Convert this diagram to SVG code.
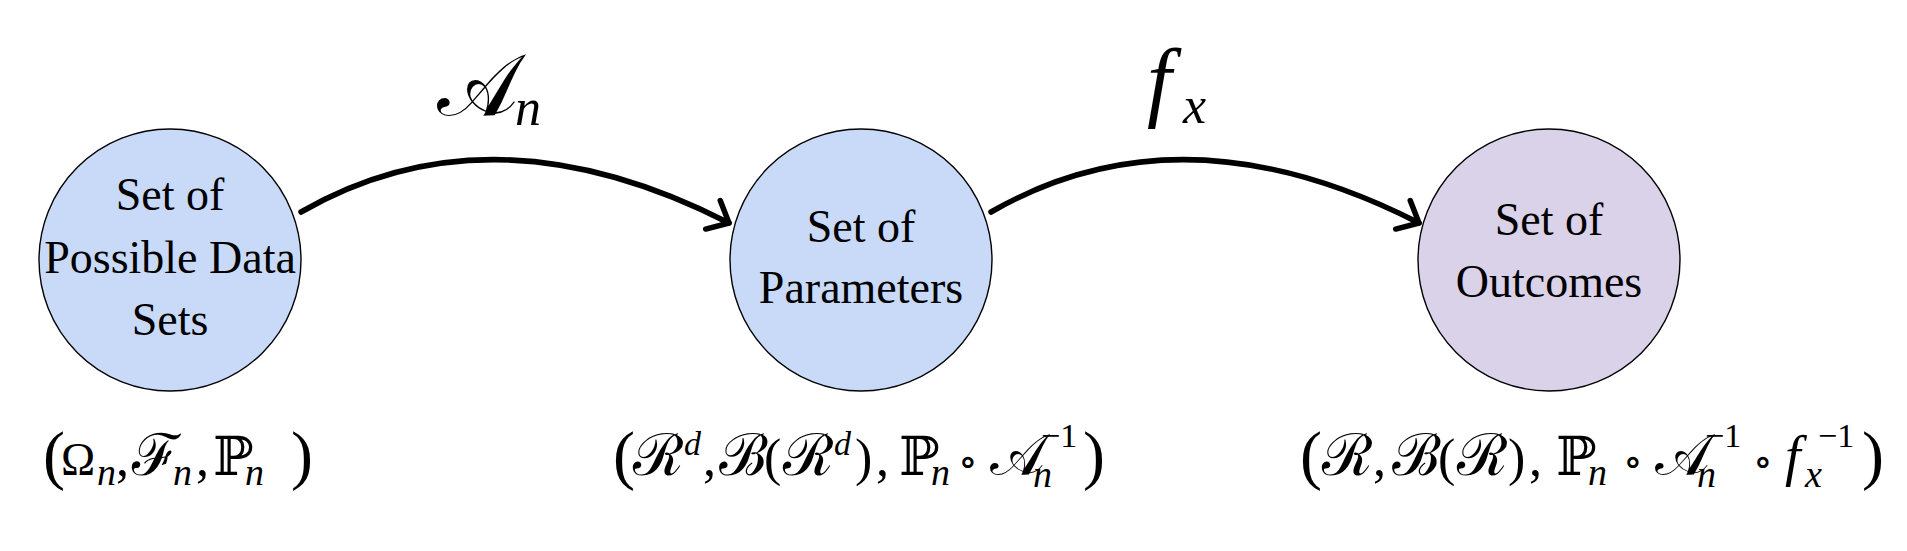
<svg xmlns="http://www.w3.org/2000/svg" width="1907" height="551" viewBox="0 0 1907 551">
<defs>
<style>
.node{stroke:#000;stroke-width:1.4}
.blue{fill:#c9daf8}
.purple{fill:#d9d2e9}
.nt{font-family:"Liberation Serif",serif;font-size:46px;fill:#000;text-anchor:middle}
.edge{fill:none;stroke:#000;stroke-width:5.5;stroke-linecap:round}
.lbl{font-family:"Liberation Serif",serif;fill:#000;font-size:52px}
.m{font-family:"DejaVu Serif",serif;font-size:58px}
.i{font-style:italic}
.sub{font-style:italic;font-size:38px}
.sup{font-size:34px}
.par{font-size:66px}
.op{font-family:"DejaVu Serif",serif;font-size:40px}
</style>
<marker id="arr" markerUnits="userSpaceOnUse" viewBox="-25 -22 30 44" refX="0" refY="0" markerWidth="30" markerHeight="44" orient="auto" overflow="visible">
<path d="M-18,-16 L0,0 L-18,16" fill="none" stroke="#000" stroke-width="5.5" stroke-linecap="round" stroke-linejoin="round"/>
</marker>
</defs>
<rect width="1907" height="551" fill="#fff"/>
<g id="connectors">
<path class="edge" d="M301,212 Q492,102 729,223" marker-end="url(#arr)"/>
<path class="edge" d="M991,212 Q1182,102 1419,223" marker-end="url(#arr)"/>
</g>
<g id="label-An">
<text class="lbl"><tspan class="m" x="437" y="115" style="font-size:86px">𝒜</tspan><tspan class="sub" x="515" y="125" style="font-size:52px">n</tspan></text>
</g>
<g id="label-fx">
<text class="lbl"><tspan class="i" x="1147" y="110" style="font-size:88px">f</tspan><tspan class="sub" x="1183" y="123" style="font-size:52px">x</tspan></text>
</g>
<g id="node-data">
<circle class="node blue" cx="170" cy="260" r="131"/>
<text class="nt" x="170" y="210">Set of</text>
<text class="nt" x="170" y="273">Possible Data</text>
<text class="nt" x="170" y="335">Sets</text>
</g>
<g id="node-params">
<circle class="node blue" cx="861" cy="260" r="131"/>
<text class="nt" x="861" y="242">Set of</text>
<text class="nt" x="861" y="303">Parameters</text>
</g>
<g id="node-outcomes">
<circle class="node purple" cx="1549" cy="260" r="131"/>
<text class="nt" x="1549" y="235">Set of</text>
<text class="nt" x="1549" y="297">Outcomes</text>
</g>
<g id="label-space1">
<text class="lbl"><tspan class="par" x="43" y="477">(</tspan><tspan x="61" y="475" style="font-size:46px">Ω</tspan><tspan class="sub" x="97" y="485">n</tspan><tspan x="116" y="475">,</tspan><tspan class="m" x="132" y="475">ℱ</tspan><tspan class="sub" x="173" y="485">n</tspan><tspan x="196" y="475">,</tspan><tspan class="m" x="213" y="475" style="font-size:54px">ℙ</tspan><tspan class="sub" x="245" y="485">n</tspan><tspan class="par" x="291" y="477">)</tspan></text>
</g>
<g id="label-space2">
<text class="lbl"><tspan class="par" x="613" y="477">(</tspan><tspan class="m" x="633" y="475">ℛ</tspan><tspan class="sup i" x="684" y="455">d</tspan><tspan x="703" y="475">,</tspan><tspan class="m" x="719" y="475">ℬ</tspan><tspan x="764" y="475">(</tspan><tspan class="m" x="783" y="475">ℛ</tspan><tspan class="sup i" x="834" y="455">d</tspan><tspan x="855" y="475">)</tspan><tspan x="876" y="475">,</tspan><tspan class="m" x="899" y="475" style="font-size:54px">ℙ</tspan><tspan class="sub" x="931" y="485">n</tspan><tspan class="op" x="958" y="475">∘</tspan><tspan class="m" x="990" y="475">𝒜</tspan><tspan class="sub" x="1033" y="487">n</tspan><tspan class="sup" x="1041" y="447">−1</tspan><tspan class="par" x="1083" y="477">)</tspan></text>
</g>
<g id="label-space3">
<text class="lbl"><tspan class="par" x="1300" y="477">(</tspan><tspan class="m" x="1322" y="475">ℛ</tspan><tspan x="1373" y="475">,</tspan><tspan class="m" x="1392" y="475">ℬ</tspan><tspan x="1438" y="475">(</tspan><tspan class="m" x="1457" y="475">ℛ</tspan><tspan x="1508" y="475">)</tspan><tspan x="1529" y="475">,</tspan><tspan class="m" x="1556" y="475" style="font-size:54px">ℙ</tspan><tspan class="sub" x="1588" y="485">n</tspan><tspan class="op" x="1623" y="475">∘</tspan><tspan class="m" x="1655" y="475">𝒜</tspan><tspan class="sub" x="1697" y="487">n</tspan><tspan class="sup" x="1705" y="447">−1</tspan><tspan class="op" x="1753" y="475">∘</tspan><tspan class="i" x="1785" y="475" style="font-size:56px">f</tspan><tspan class="sub" x="1805" y="487">x</tspan><tspan class="sup" x="1818" y="447">−1</tspan><tspan class="par" x="1862" y="477">)</tspan></text>
</g>
</svg>
